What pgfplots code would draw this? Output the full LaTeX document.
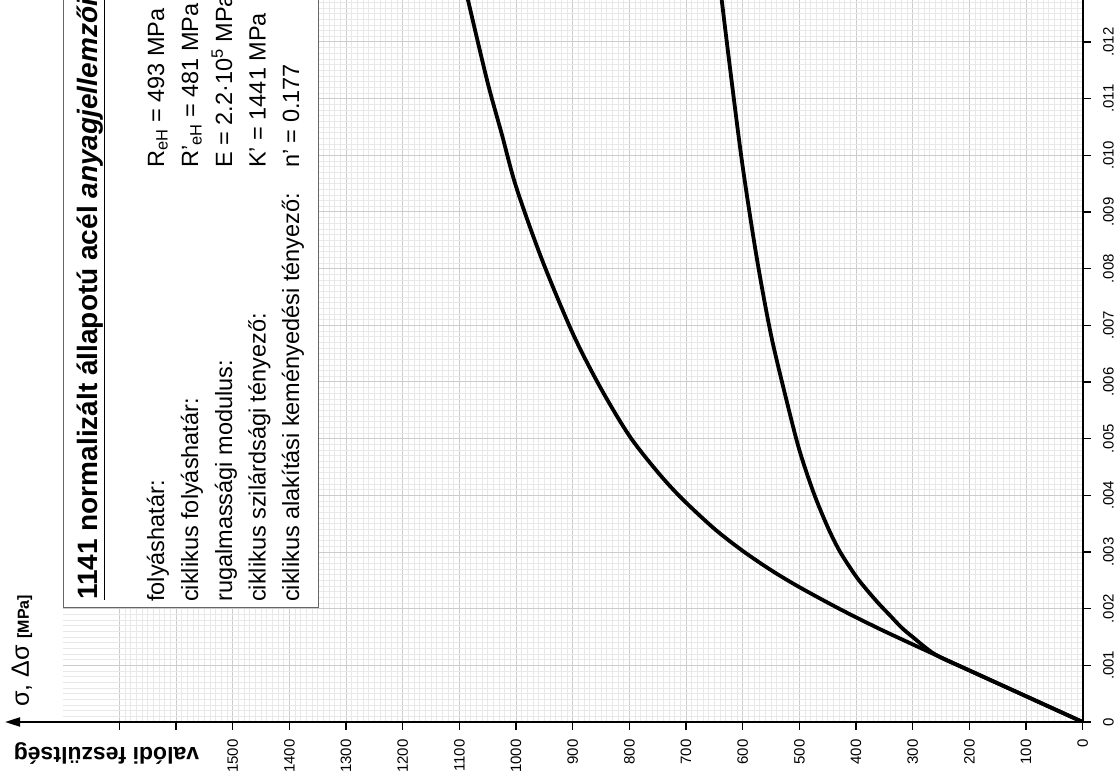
\documentclass[border=0pt]{standalone}
\usepackage{pgfplots}
\pgfplotsset{compat=1.18}
\usepackage{fontspec}
\setmainfont{Liberation Sans}
\usetikzlibrary{arrows.meta}

\begin{document}
\begin{tikzpicture}[x=1pt,y=1pt]
\useasboundingbox (0,0) rectangle (1120,780);
\clip (0,0) rectangle (1120,780);

\begin{axis}[
  at={(1082.7pt,58pt)}, anchor=south east,
  scale only axis,
  width=1020pt, height=765pt,
  x dir=reverse,
  xmin=0, xmax=1800,
  ymin=0, ymax=0.0135,
  axis x line*=bottom,
  axis y line*=right,
  axis line style={line width=2pt, black},
  xtick={0,100,...,1700},
  xticklabels={0,100,200,300,400,500,600,700,800,900,1000,1100,1200,1300,1400,1500,,},
  ytick={0,0.001,...,0.013},
  yticklabels={0,.001,.002,.003,.004,.005,.006,.007,.008,.009,.010,.011,.012,.013},
  scaled y ticks=false,
  minor x tick num=9,
  minor y tick num=9,
  grid=both,
  major grid style={draw=black!20, line width=1pt},
  minor grid style={draw=black!9, line width=0.9pt},
  tick align=outside,
  major tick length=8pt,
  minor tick length=0pt,
  every tick/.style={black, line width=1.5pt},
  xticklabel shift=6pt,
  yticklabel shift=9pt,
  xticklabel style={rotate=90, anchor=east, font=\fontsize{15}{15}\selectfont},
  yticklabel style={rotate=90, anchor=north, font=\fontsize{15}{15}\selectfont},
]

% monotonic true stress-strain curve
\addplot[line width=3.8pt, black, smooth] coordinates {
(0,0) (100,0.000455) (200,0.00091) (300,0.00137) (360,0.00165)
(428,0.00199) (500,0.00238) (550,0.00268) (600,0.00302) (650,0.00341)
(708,0.00395) (750,0.00441) (800,0.00505) (851,0.00590) (900,0.00686)
(955,0.00818) (1000,0.00945) (1025,0.01037) (1050,0.01128) (1081,0.01258)
(1100,0.0134)
};

% cyclic curve
\addplot[line width=3.8pt, black, smooth] coordinates {
(0,0) (100,0.000455) (200,0.00091) (260,0.00119) (300,0.00150)
(320,0.00167) (340,0.00188) (360,0.00209) (380,0.00232) (400,0.00257)
(428,0.00300) (450,0.00344) (475,0.00405) (500,0.00480) (522,0.00565)
(550,0.00683) (575,0.00818) (600,0.00980) (620,0.01135) (640,0.01300)
(650,0.01400)
};
\end{axis}

% stress axis extension with arrow
\draw[line width=2pt, -{Triangle[length=15pt,width=9pt]}] (63,58) -- (5,58);

% info box
\draw[fill=white, draw=black!60, line width=1pt] (63,172) rectangle (318,820);
\begin{scope}[every node/.style={rotate=90, anchor=base west, inner sep=0pt, font=\fontsize{23.5}{23.5}\selectfont}]
\node[font=\bfseries\fontsize{28}{28}\selectfont] at (97,180) {\underline{1141 normalizált állapotú acél \textit{anyagjellemzői}}};
\node at (164,178) {folyáshatár:};
\node at (198,178) {ciklikus folyáshatár:};
\node at (232,178) {rugalmassági modulus:};
\node at (265.5,178) {ciklikus szilárdsági tényező:};
\node at (299,178) {ciklikus alakítási keményedési tényező:};
\node at (164,612) {R\textsubscript{eH} = 493 MPa};
\node at (198,612) {R'\textsubscript{eH} = 481 MPa};
\node at (232,612) {E = 2.2·10\textsuperscript{5} MPa};
\node at (265.5,612) {K' = 1441 MPa};
\node at (299,612) {n' = 0.177};
\end{scope}

% axis labels
\node[rotate=90, anchor=west, inner sep=0pt] at (22,73)
  {\fontsize{25}{25}\selectfont σ, Δσ {\bfseries\fontsize{16}{16}\selectfont [MPa]}};
\node[rotate=180, inner sep=0pt, font=\bfseries\fontsize{23}{23}\selectfont] at (106.5,27) {valódi feszültség};
\end{tikzpicture}
\end{document}
